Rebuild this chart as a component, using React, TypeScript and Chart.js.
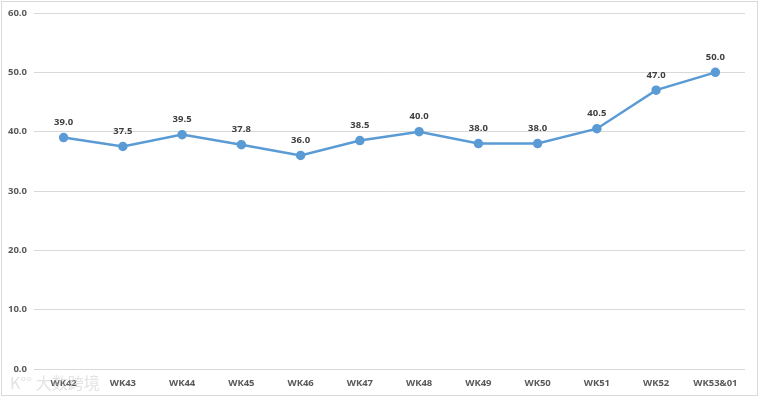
import React, { useEffect, useRef } from "react";
import { Chart, registerables } from "chart.js";

Chart.register(...registerables);

const categories = ["WK42", "WK43", "WK44", "WK45", "WK46", "WK47", "WK48", "WK49", "WK50", "WK51", "WK52", "WK53&01"];
const values = [39.0, 37.5, 39.5, 37.8, 36.0, 38.5, 40.0, 38.0, 38.0, 40.5, 47.0, 50.0];
const yMin = 0;
const yMax = 60;
const yStep = 10;

const FONT = "'Open Sans', 'Liberation Sans', Arial, sans-serif";
const TEXT = "#595959";

const dataLabels = {
  id: "dataLabels",
  afterDatasetsDraw(chart: any) {
    const ctx = chart.ctx;
    const meta = chart.getDatasetMeta(0);
    ctx.save();
    ctx.font = `bold 9.5px ${FONT}`;
    ctx.fillStyle = "#404040";
    ctx.textAlign = "center";
    ctx.textBaseline = "middle";
    meta.data.forEach((pt: any, i: number) => {
      ctx.fillText(values[i].toFixed(1), pt.x, pt.y - 15);
    });
    ctx.restore();
  },
};

const watermark = {
  id: "watermark",
  afterDraw(chart: any) {
    const ctx = chart.ctx;
    ctx.save();
    ctx.font = `16px 'Noto Sans CJK SC', sans-serif`;
    ctx.fillStyle = "rgba(200,200,200,0.5)";
    ctx.textBaseline = "middle";
    ctx.fillText("K°° 大数跨境", 10, 383);
    ctx.restore();
  },
};

export default function App() {
  const ref = useRef<HTMLCanvasElement | null>(null);
  useEffect(() => {
    if (!ref.current) return;
    const chart = new Chart(ref.current, {
      type: "line",
      data: {
        labels: categories,
        datasets: [
          {
            data: values,
            borderColor: "#5b9bd5",
            backgroundColor: "#5b9bd5",
            borderWidth: 2.5,
            pointRadius: 3.5,
            pointBackgroundColor: "#5b9bd5",
            pointBorderColor: "#5b9bd5",
            tension: 0,
          },
        ],
      },
      options: {
        animation: false,
        responsive: false,
        maintainAspectRatio: false,
        layout: { padding: { left: 0, right: 17, top: 13, bottom: 0 } },
        plugins: { legend: { display: false }, tooltip: { enabled: false } },
        scales: {
          x: {
            offset: true,
            grid: { display: false, drawTicks: false },
            border: { display: false },
            ticks: {
              color: TEXT,
              font: { family: FONT, size: 9.5, weight: "bold" },
              padding: 9,
              maxRotation: 0,
              autoSkip: false,
            },
            afterFit: (s: any) => {
              s.height = 31;
            },
          },
          y: {
            min: yMin,
            max: yMax,
            grid: { color: "#d9d9d9", drawTicks: false, lineWidth: 1 },
            border: { display: false },
            ticks: {
              stepSize: yStep,
              color: TEXT,
              font: { family: FONT, size: 9.5, weight: "bold" },
              padding: 7,
              callback: (v: any) => Number(v).toFixed(1),
            },
            afterFit: (s: any) => {
              s.width = 34;
            },
          },
        },
      },
      plugins: [dataLabels, watermark],
    });
    return () => chart.destroy();
  }, []);
  return (
    <div style={{ position: "absolute", left: 0, top: 0, width: 762, height: 400, background: "#fff" }}>
      <div
        style={{
          position: "absolute",
          left: 1,
          top: 1,
          width: 757,
          height: 395,
          border: "1px solid #d9d9d9",
          boxSizing: "border-box",
        }}
      />
      <canvas ref={ref} width={762} height={400} style={{ position: "absolute", left: 0, top: 0, width: 762, height: 400 }} />
    </div>
  );
}
